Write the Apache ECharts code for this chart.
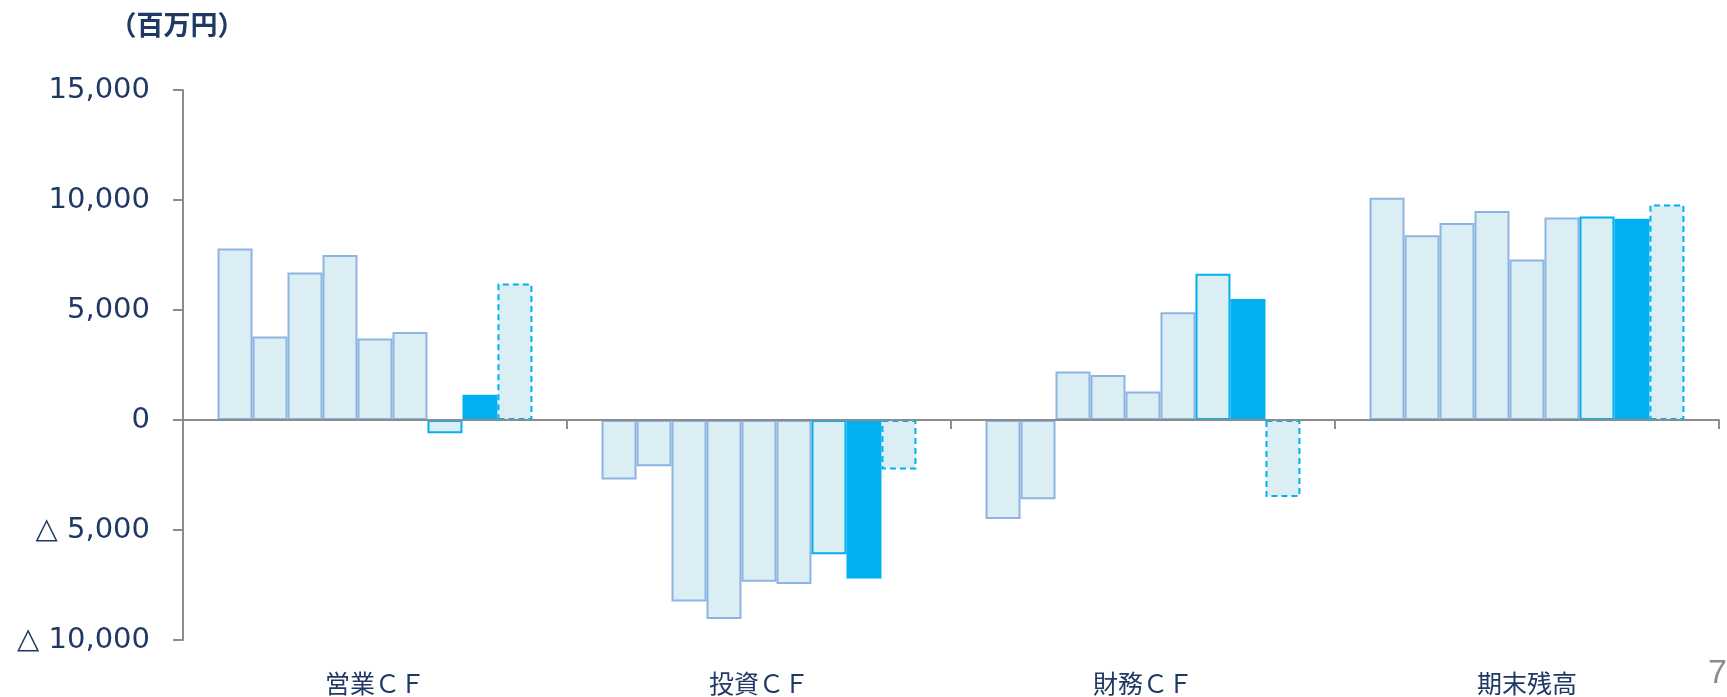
<!DOCTYPE html>
<html>
<head>
<meta charset="utf-8">
<script src="https://cdn.jsdelivr.net/npm/echarts@6/dist/echarts.min.js"></script>
<style>
html,body{margin:0;padding:0;background:#fff;}
#chart{width:1727px;height:697px;}
</style>
</head>
<body>
<div id="chart"></div>
<script>
// Categories (x axis)
const categories = ['営業ＣＦ', '投資ＣＦ', '財務ＣＦ', '期末残高'];
// Y axis tick settings
const yMin = -10000, yMax = 15000, yInterval = 5000;
// Series values (one array per period, values per category), 百万円
const s1 = [7800, -2700, -4500, 10100];
const s2 = [3800, -2100, -3600, 8400];
const s3 = [6700, -8250, 2200, 8950];
const s4 = [7500, -9050, 2050, 9500];
const s5 = [3700, -7350, 1300, 7300];
const s6 = [4000, -7450, 4900, 9200];
const s7 = [-600, -6100, 6650, 9250];
const s8 = [1150, -7200, 5500, 9150];
const s9 = [6200, -2250, -3500, 9800];
const seriesNames = ['期1', '期2', '期3', '期4', '期5', '期6', '期7', '期8', '期9'];
const seriesData = [s1, s2, s3, s4, s5, s6, s7, s8, s9];

const NAVY = '#1f3864';
const AXIS = '#8c8c8c';
const FILL = '#daeef3';
const EDGE = '#8eb4e3';
const CYAN = '#00b0f0';

function styleFor(i) {
  if (i < 6) return { color: FILL, borderColor: EDGE, borderWidth: 2 };
  if (i === 6) return { color: FILL, borderColor: CYAN, borderWidth: 2 };
  if (i === 7) return { color: CYAN, borderColor: CYAN, borderWidth: 0 };
  return { color: FILL, borderColor: CYAN, borderWidth: 2, borderType: [6, 4] };
}

const series = seriesData.map((d, i) => ({
  name: seriesNames[i],
  type: 'bar',
  xAxisIndex: 0,
  yAxisIndex: 0,
  data: d,
  barGap: '0%',
  barCategoryGap: '18%',
  itemStyle: styleFor(i),
  emphasis: { disabled: true },
  z: 2
}));

function fmt(v) {
  const a = Math.abs(v).toLocaleString('en-US');
  return v < 0 ? '△ ' + a : a;
}

const chart = echarts.init(document.getElementById('chart'), null, { renderer: 'canvas' });
chart.setOption({
  animation: false,
  backgroundColor: '#ffffff',
  grid: { left: 183, right: 8, top: 90, bottom: 57, containLabel: false },
  xAxis: [
    {
      type: 'category',
      data: categories,
      position: 'bottom',
      z: 10,
      axisLine: { show: true, onZero: true, lineStyle: { color: AXIS, width: 2 } },
      axisTick: { show: true, length: 9, lineStyle: { color: AXIS, width: 2 } },
      axisLabel: { show: false },
      splitLine: { show: false }
    },
    {
      type: 'category',
      data: categories,
      position: 'bottom',
      axisLine: { show: false, onZero: false },
      axisTick: { show: false },
      axisLabel: {
        show: true, margin: 31, color: NAVY, fontSize: 25,
        fontFamily: "'Noto Sans CJK JP', sans-serif"
      },
      splitLine: { show: false }
    }
  ],
  yAxis: {
    type: 'value',
    min: yMin, max: yMax, interval: yInterval,
    axisLine: { show: true, lineStyle: { color: AXIS, width: 2 } },
    axisTick: { show: true, length: 10, lineStyle: { color: AXIS, width: 2 } },
    splitLine: { show: false },
    axisLabel: {
      margin: 33, color: NAVY, fontSize: 29, fontFamily: "'DejaVu Sans', sans-serif",
      formatter: fmt
    }
  },
  graphic: [
    {
      type: 'text', x: 177, y: 25,
      style: {
        text: '（百万円）', fill: NAVY, fontSize: 27, fontWeight: 'bold',
        fontFamily: "'Noto Sans CJK JP', sans-serif", align: 'center', verticalAlign: 'middle'
      }
    },
    {
      type: 'text', x: 1727, y: 674,
      style: {
        text: '7', fill: AXIS, fontSize: 34,
        fontFamily: "'Liberation Sans', sans-serif", align: 'right', verticalAlign: 'middle'
      }
    }
  ],
  series: series
});
</script>
</body>
</html>
